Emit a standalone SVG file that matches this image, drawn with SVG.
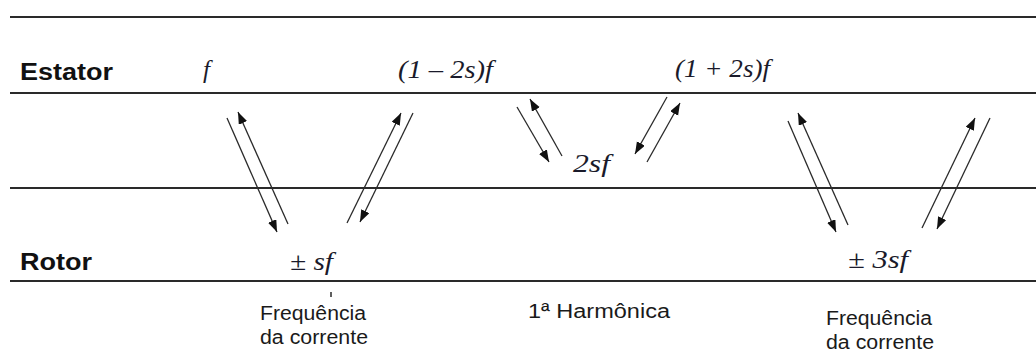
<svg xmlns="http://www.w3.org/2000/svg" width="1036" height="353" viewBox="0 0 1036 353">
<style>
.rule{stroke:#2a2a2a;stroke-width:2;fill:none}
.lbl{font-family:"Liberation Sans",Arial,sans-serif;font-weight:bold;font-size:23px;fill:#111}
.math{font-family:"Liberation Serif","Times New Roman",serif;font-style:italic;font-size:25px;fill:#1a1a2a}
.cap{font-family:"Liberation Sans",Arial,sans-serif;font-size:20px;fill:#1a1a1a}
.arr{stroke:#2a2a2a;stroke-width:1.3;fill:none}
.arr.h{marker-end:url(#ah)}
</style>
<defs>
<marker id="ah" markerUnits="userSpaceOnUse" markerWidth="13" markerHeight="10" refX="12" refY="4.5" orient="auto">
<path d="M0,0 L12,4.5 L0,9 z" fill="#111"/>
</marker>
</defs>
<g id="rules">
<line class="rule" x1="10" y1="17" x2="1036" y2="17"/>
<line class="rule" x1="10" y1="93" x2="1036" y2="93"/>
<line class="rule" x1="10" y1="188" x2="1036" y2="188"/>
<line class="rule" x1="10" y1="281" x2="1036" y2="281"/>
<line class="rule" x1="331" y1="292" x2="331" y2="297" style="stroke-width:1.5"/>
</g>
<g id="row-labels">
<text class="lbl" x="20" y="80" textLength="93" lengthAdjust="spacingAndGlyphs">Estator</text>
<text class="lbl" x="20" y="270" textLength="72" lengthAdjust="spacingAndGlyphs">Rotor</text>
</g>
<g id="node-f"><text class="math" x="203" y="78">f</text></g>
<g id="node-1m2s"><text class="math" x="398" y="78" textLength="95" lengthAdjust="spacingAndGlyphs">(1 – 2s)f</text></g>
<g id="node-1p2s"><text class="math" x="675" y="77" textLength="95" lengthAdjust="spacingAndGlyphs">(1 + 2s)f</text></g>
<g id="node-2sf"><text class="math" x="573" y="172" textLength="37" lengthAdjust="spacingAndGlyphs">2sf</text></g>
<g id="node-sf"><text class="math" x="290" y="270" textLength="43" lengthAdjust="spacingAndGlyphs">± sf</text></g>
<g id="node-3sf"><text class="math" x="848" y="268" textLength="60" lengthAdjust="spacingAndGlyphs">± 3sf</text></g>
<g id="captions">
<text class="cap" x="260" y="320" textLength="106" lengthAdjust="spacingAndGlyphs">Frequência</text>
<text class="cap" x="260" y="344" textLength="108" lengthAdjust="spacingAndGlyphs">da corrente</text>
<text class="cap" x="528" y="318" textLength="142" lengthAdjust="spacingAndGlyphs">1ª Harmônica</text>
<text class="cap" x="826" y="325" textLength="106" lengthAdjust="spacingAndGlyphs">Frequência</text>
<text class="cap" x="826" y="349" textLength="108" lengthAdjust="spacingAndGlyphs">da corrente</text>
</g>
<g id="connectors">
<line class="arr h" x1="227" y1="118" x2="277" y2="232"/>
<line class="arr h" x1="288" y1="224" x2="238" y2="112"/>
<line class="arr h" x1="347" y1="223" x2="401" y2="113"/>
<line class="arr h" x1="413" y1="113" x2="360" y2="222"/>
<line class="arr h" x1="517" y1="107" x2="549" y2="162"/>
<line class="arr h" x1="562" y1="156" x2="530" y2="99"/>
<line class="arr h" x1="667" y1="97" x2="635" y2="154"/>
<line class="arr h" x1="647" y1="162" x2="680" y2="103"/>
<line class="arr h" x1="788" y1="121" x2="836" y2="232"/>
<line class="arr h" x1="848" y1="225" x2="798" y2="113"/>
<line class="arr h" x1="922" y1="228" x2="975" y2="118"/>
<line class="arr h" x1="990" y1="118" x2="937" y2="229"/>
</g>
</svg>
